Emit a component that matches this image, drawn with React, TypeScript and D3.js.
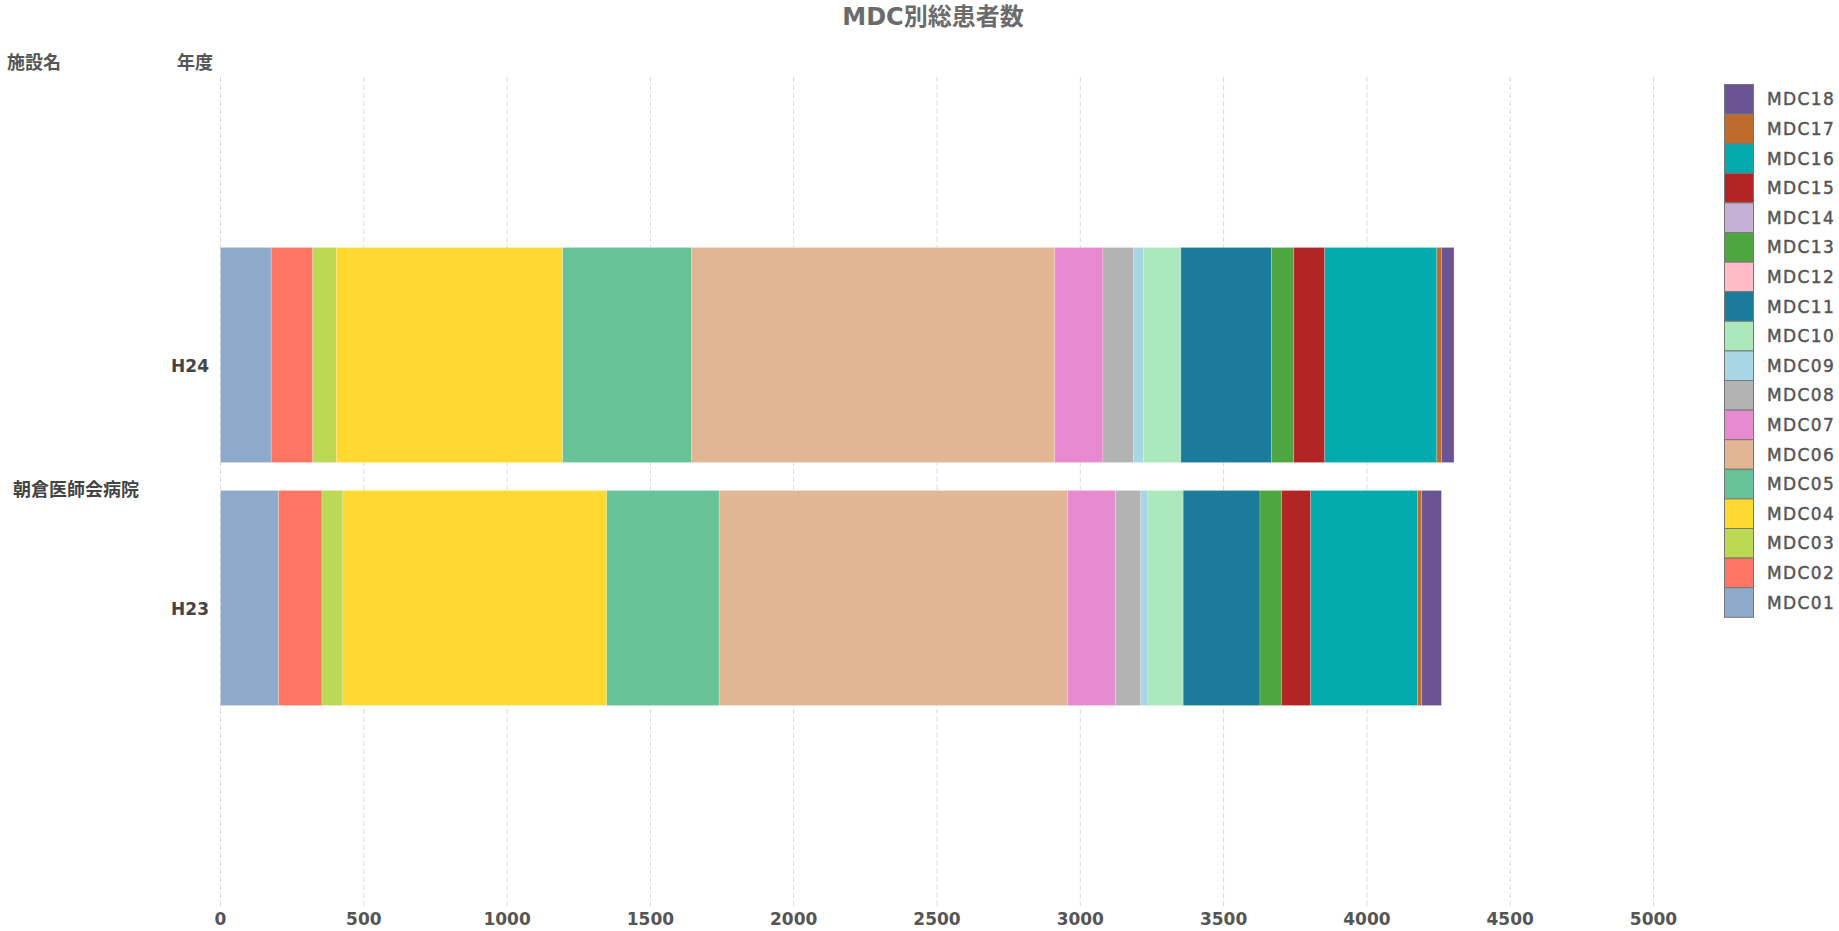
import React from "react";
import * as d3 from "d3";

const title = "MDC別総患者数";
const facility = "朝倉医師会病院";
const years = ["H24", "H23"];
const mdcKeys = [
  "MDC01", "MDC02", "MDC03", "MDC04", "MDC05", "MDC06", "MDC07", "MDC08", "MDC09",
  "MDC10", "MDC11", "MDC12", "MDC13", "MDC14", "MDC15", "MDC16", "MDC17", "MDC18",
];
const valuesH24 = [177, 145, 82, 790, 450, 1267, 168, 107, 35, 130, 316, 0, 78, 0, 108, 391, 16, 44];
const valuesH23 = [203, 151, 73, 921, 392, 1216, 167, 88, 25, 123, 268, 0, 75, 0, 102, 372, 15, 69];
const mdcColors = [
  "#8eaacb", "#fe7564", "#bcd955", "#fed931", "#66c297", "#e2b594", "#e68bcf", "#b3b3b3", "#a7d7e4",
  "#abe8bb", "#1a7b9a", "#ffbcc6", "#4ea641", "#c5b1d6", "#b22525", "#03aaad", "#bf6b2b", "#6a5494",
];
const xTicks = [0, 500, 1000, 1500, 2000, 2500, 3000, 3500, 4000, 4500, 5000];

export default function App() {
  const W = 1839, H = 931;
  const x = d3.scaleLinear().domain([0, 5000]).range([220.5, 1653.5]);
  const y = d3.scaleBand().domain(years).range([233.5, 719.5]).paddingInner(0.115).paddingOuter(0.0575);

  const rows = years.map((yr, i) => {
    const vals = i === 0 ? valuesH24 : valuesH23;
    const o: any = { year: yr };
    mdcKeys.forEach((k, j) => (o[k] = vals[j]));
    return o;
  });
  const stack = d3.stack<any>().keys(mdcKeys)(rows);
  const color = d3.scaleOrdinal<string, string>().domain(mdcKeys).range(mdcColors);

  const latin = "'DejaVu Sans', 'Noto Sans CJK JP', sans-serif";
  const cjk = "'Noto Sans CJK JP', 'DejaVu Sans', sans-serif";

  const legendKeys = [...mdcKeys].reverse();
  const legY0 = 84.5, legStep = 29.6;

  const bw = y.bandwidth();
  const groupCenter = ((y("H24") as number) + (y("H23") as number) + bw) / 2;

  return (
    <svg width={W} height={H} style={{ position: "absolute", left: 0, top: 0, display: "block", background: "#fff" }}>
      <text x={933} y={25} textAnchor="middle" fontFamily={latin} fontWeight="bold" fontSize={24} fill="#6b6b6b">
        {title}
      </text>
      <text x={7} y={69} fontFamily={cjk} fontWeight="bold" fontSize={18} fill="#555">施設名</text>
      <text x={177} y={69} fontFamily={cjk} fontWeight="bold" fontSize={18} fill="#555">年度</text>

      {xTicks.map((t) => (
        <g key={t}>
          <line x1={x(t)} x2={x(t)} y1={77} y2={906} stroke="#d9d9d9" strokeWidth={1} strokeDasharray="5,3" />
          <text x={x(t)} y={925} textAnchor="middle" fontFamily={latin} fontWeight="bold" fontSize={17} fill="#555">
            {t}
          </text>
        </g>
      ))}

      {stack.map((s) =>
        s.map((d, i) => {
          const w = x(d[1]) - x(d[0]);
          if (w <= 0) return null;
          return (
            <rect
              key={s.key + i}
              x={x(d[0])}
              y={y(years[i]) as number}
              width={w}
              height={bw}
              fill={color(s.key)}
              stroke="rgba(255,255,255,0.35)"
              strokeWidth={0.6}
            />
          );
        })
      )}

      {years.map((yr) => (
        <text key={yr} x={209} y={(y(yr) as number) + bw / 2 + 17} textAnchor="end" fontFamily={latin} fontWeight="bold" fontSize={17} fill="#444">
          {yr}
        </text>
      ))}
      <text x={13} y={groupCenter + 19} fontFamily={cjk} fontWeight="bold" fontSize={18} fill="#444">
        {facility}
      </text>

      {legendKeys.map((k, i) => (
        <g key={k}>
          <rect x={1724.5} y={legY0 + i * legStep} width={29} height={legStep} fill={color(k)} stroke="#777" strokeWidth={1} />
          <text x={1767} y={legY0 + i * legStep + legStep / 2 + 6} fontFamily={latin} fontSize={17} letterSpacing={1.4} fill="#555" stroke="#555" strokeWidth={0.45}>
            {k}
          </text>
        </g>
      ))}
    </svg>
  );
}
